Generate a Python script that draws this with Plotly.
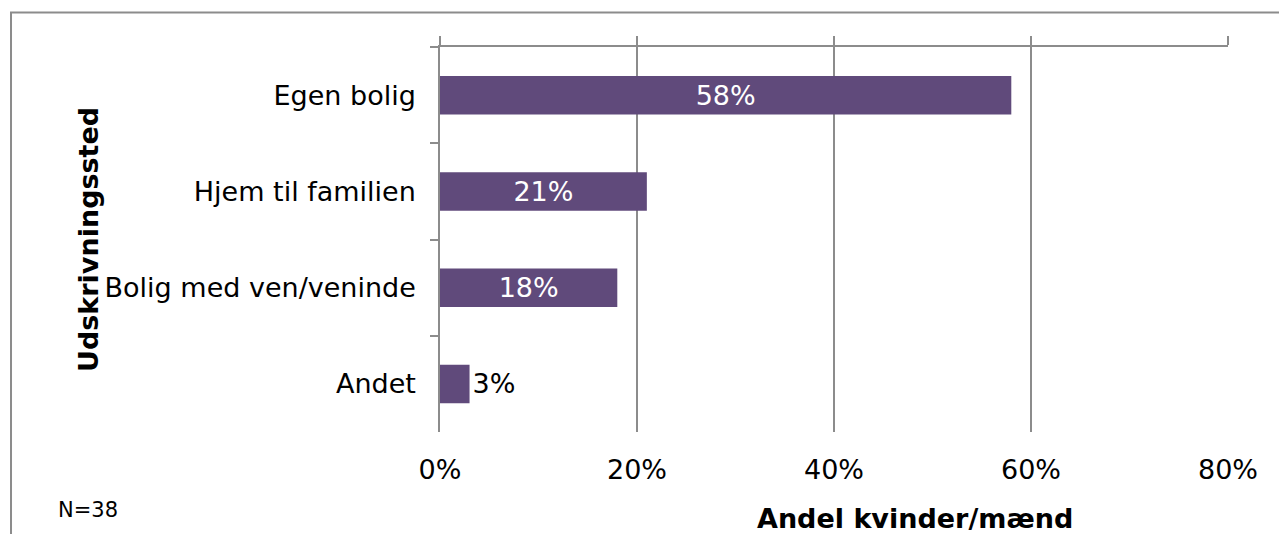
import plotly.graph_objects as go

categories = ["Egen bolig", "Hjem til familien", "Bolig med ven/veninde", "Andet"]
values = [58, 21, 18, 3]
labels = ["58%", "21%", "18%", "3%"]
x_ticks = [0, 20, 40, 60, 80]
x_ticktext = ["0%", "20%", "40%", "60%", "80%"]

FONT = "DejaVu Sans"
GRID = "#8c8c8c"
BAR = "#604a7b"

inside = [v >= 10 for v in values]
text_pos = ["inside" if i else "outside" for i in inside]
text_col = ["white" if i else "black" for i in inside]

fig = go.Figure()
fig.add_trace(go.Bar(
    y=categories, x=values, orientation="h",
    marker=dict(color=BAR, line=dict(width=0)),
    width=0.4,
    text=labels, textposition=text_pos,
    insidetextanchor="middle",
    textfont=dict(family=FONT, size=27, color=text_col),
    constraintext="none",
    cliponaxis=False,
    hoverinfo="skip",
))
# invisible trace for top axis with tick stubs
fig.add_trace(go.Scatter(x=[0, 80], y=[categories[0], categories[0]], xaxis="x2",
                         mode="markers", marker=dict(opacity=0), hoverinfo="skip",
                         showlegend=False))

# page body has an 8px margin, so the figure is shifted by 8px
fig.update_layout(
    width=1287, height=534,
    margin=dict(l=432, r=67, t=39, b=110),
    paper_bgcolor="white", plot_bgcolor="white",
    showlegend=False,
    font=dict(family=FONT, color="black"),
    xaxis=dict(
        range=[0, 80], tickvals=x_ticks, ticktext=x_ticktext,
        showgrid=True, gridcolor=GRID, gridwidth=1.5,
        zeroline=False, showline=False, ticks="",
        tickfont=dict(family=FONT, size=27, color="black"),
        ticklabelstandoff=19, fixedrange=True,
    ),
    xaxis2=dict(
        range=[0, 80], tickvals=x_ticks, overlaying="x", side="top",
        showgrid=False, zeroline=False, showline=True, linecolor=GRID, linewidth=1.5,
        ticks="outside", ticklen=9, tickcolor=GRID, tickwidth=1.5,
        showticklabels=False, fixedrange=True,
    ),
    yaxis=dict(
        categoryorder="array", categoryarray=categories, autorange="reversed",
        showline=True, linecolor=GRID, linewidth=1.5,
        ticks="outside", tickson="boundaries", ticklen=8, tickcolor=GRID, tickwidth=1.5,
        showgrid=False, zeroline=False,
        tickfont=dict(family=FONT, size=27, color="black"),
        ticklabelstandoff=17, fixedrange=True,
    ),
    shapes=[dict(type="rect", xref="paper", yref="paper",
                 x0=-0.5444, x1=1.09, y0=-0.30, y1=1.0896,
                 line=dict(color=GRID, width=2), fillcolor="rgba(0,0,0,0)", layer="below")],
    annotations=[
        dict(text="<b>Andel kvinder/mænd</b>", xref="paper", yref="paper",
             x=0.6028, y=-0.2234, showarrow=False, xanchor="center", yanchor="middle",
             font=dict(family=FONT, size=27, color="black")),
        dict(text="<b>Udskrivningssted</b>", xref="paper", yref="paper",
             x=-0.4467, y=0.4987, showarrow=False, xanchor="center", yanchor="middle",
             textangle=-90, font=dict(family=FONT, size=27, color="black")),
        dict(text="N=38", xref="paper", yref="paper",
             x=-0.4467, y=-0.2026, showarrow=False, xanchor="center", yanchor="middle",
             font=dict(family=FONT, size=21, color="black")),
    ],
)

fig.write_html("out.html")
